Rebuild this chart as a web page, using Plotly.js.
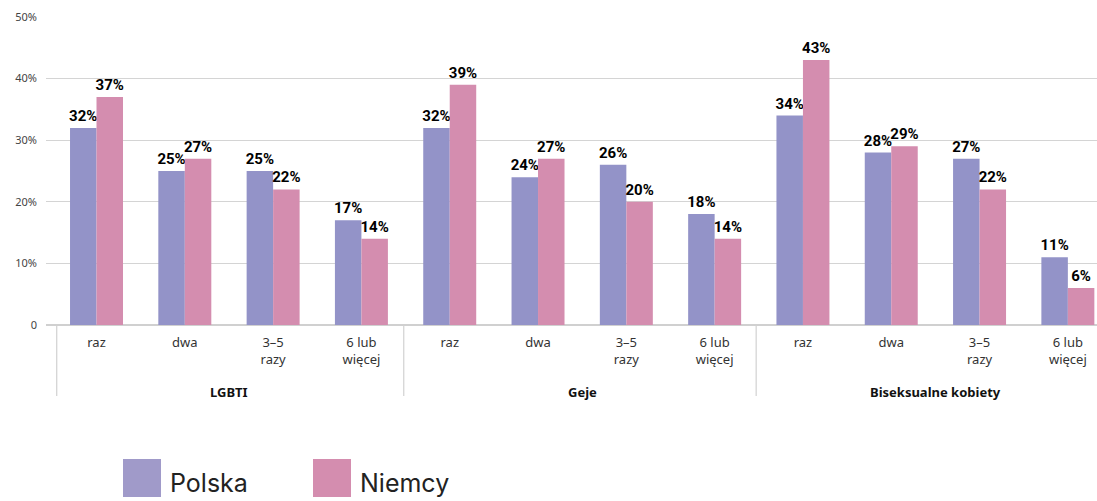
<!DOCTYPE html>
<html>
<head>
<meta charset="utf-8">
<script src="https://cdn.plot.ly/plotly-3.0.1.min.js"></script>
<style>html,body{margin:0;padding:0;background:#fff;}#chart{width:1097px;height:501px;}</style>
</head>
<body>
<div id="chart"></div>
<script>
const categories = ['raz','dwa','3–5<br>razy','6 lub<br>więcej','raz','dwa','3–5<br>razy','6 lub<br>więcej','raz','dwa','3–5<br>razy','6 lub<br>więcej'];
const groups = ['LGBTI','Geje','Biseksualne kobiety'];
const polska = [32,25,25,17, 32,24,26,18, 34,28,27,11];
const niemcy = [37,27,22,14, 39,27,20,14, 43,29,22,6];
const seriesNames = ['Polska','Niemcy'];
const yTickVals = [0,10,20,30,40,50];
const yTickText = ['0','10%','20%','30%','40%','50%'];

const colors = ['#9393c8','#d48daf'];
const idx = categories.map((c,i)=>i);

const mk = (vals, name, color) => ({
  type:'bar', x: idx, y: vals, name: name,
  marker:{color: color},
  text: vals.map(v => v + '%'), textposition:'outside', cliponaxis:false, constraintext:'none',
  textfont:{family:'Roboto, Noto Sans, sans-serif', size:15, color:'#000', weight:'bold'},
  hoverinfo:'skip', showlegend:false
});

const traces = [mk(polska, seriesNames[0], colors[0]), mk(niemcy, seriesNames[1], colors[1])];

const groupCenters = [1.5, 5.5, 9.5];
const separators = [-0.45, 3.48, 7.47];

const layout = {
  width:1097, height:501,
  margin:{l:46, r:0, t:17, b:176},
  paper_bgcolor:'#fff', plot_bgcolor:'#fff',
  barmode:'group', bargap:0.4, bargroupgap:0,
  showlegend:false,
  font:{family:'Noto Sans, sans-serif'},
  xaxis:{
    range:[-0.572, 11.33], tickvals: idx, ticktext: categories,
    tickfont:{family:'Noto Sans, sans-serif', size:13, color:'#333'},
    ticks:'', ticklabelstandoff:8, showgrid:false, zeroline:false, showline:false, fixedrange:true
  },
  yaxis:{
    range:[0,50], tickvals:yTickVals, ticktext:yTickText,
    tickfont:{family:'Noto Sans, sans-serif', size:11, color:'#444'},
    gridcolor:'#d4d4d4', gridwidth:1, zeroline:true, zerolinecolor:'#d0d0d0', zerolinewidth:2,
    ticks:'', ticklabelstandoff:8, showline:false, fixedrange:true
  },
  annotations: [],
  shapes: []
};

Plotly.newPlot('chart', traces, layout, {displayModeBar:false, staticPlot:true}).then(gd=>{
  const plotH = gd._fullLayout._size.h;
  const top = gd._fullLayout._size.t;
  const pyToPaper = py => 1 - (py - top)/plotH;
  const ann = groups.map((g,i)=>({
    x: groupCenters[i], xref:'x', y: pyToPaper(392), yref:'paper', yanchor:'middle', showarrow:false,
    text:'<b>'+g+'</b>', font:{family:'Noto Sans, sans-serif', size:13, color:'#111'}
  }));
  const shp = separators.map(s=>({
    type:'line', xref:'x', yref:'paper', x0:s, x1:s, y0:pyToPaper(326), y1:pyToPaper(396), line:{color:'#c8c8c8', width:1}
  }));
  const W = gd._fullLayout._size.w, L = gd._fullLayout._size.l;
  const pxToPaper = px => (px - L)/W;
  const legX = [123, 313];
  seriesNames.forEach((n,i)=>{
    shp.push({type:'rect', xref:'paper', yref:'paper', x0:pxToPaper(legX[i]), x1:pxToPaper(legX[i]+38),
      y0:pyToPaper(497), y1:pyToPaper(459), fillcolor: i===0?'#a09ac9':colors[1], line:{width:0}});
    ann.push({xref:'paper', yref:'paper', x:pxToPaper(legX[i]+45), y:pyToPaper(483), xanchor:'left', yanchor:'middle',
      showarrow:false, text:n, font:{family:'Inter, Noto Sans, sans-serif', size:25, color:'#222'}});
  });
  Plotly.relayout(gd, {annotations: ann, shapes: shp});
});
</script>
</body>
</html>
